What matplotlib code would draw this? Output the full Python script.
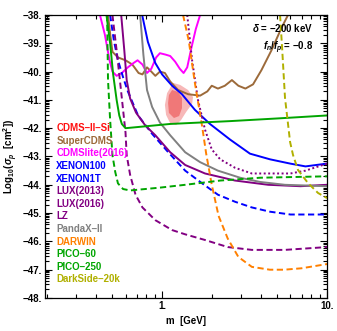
import numpy as np
import matplotlib
matplotlib.use("Agg")
import matplotlib.pyplot as plt
from matplotlib.ticker import FixedLocator, FuncFormatter, NullFormatter

plt.rcParams["font.family"] = ["Liberation Sans", "DejaVu Sans"]
plt.rcParams["font.weight"] = "bold"
plt.rcParams["mathtext.fontset"] = "custom"
plt.rcParams["mathtext.rm"] = "Liberation Sans:bold"
plt.rcParams["mathtext.it"] = "Liberation Sans:italic:bold"
plt.rcParams["mathtext.bf"] = "Liberation Sans:bold"

# --- limits: (mass [GeV], log10 sigma_p [cm^2]) ---
cdmslite_m = [0.42, 0.45, 0.48, 0.50, 0.53, 0.57, 0.62, 0.67, 0.71, 0.76, 0.81, 0.86,
              0.92, 0.97, 1.05, 1.12, 1.20, 1.28, 1.35, 1.42, 1.50, 1.60, 1.70]
cdmslite_y = [-38.0, -38.7, -39.6, -40.0, -40.15, -40.05, -39.85, -39.7, -39.6, -39.75,
              -40.05, -39.9, -39.5, -39.35, -39.4, -39.45, -39.65, -39.9, -40.05, -39.85,
              -39.2, -38.5, -38.0]

supercdms_m = [0.47, 0.485, 0.50, 0.54, 0.60, 0.66, 0.72, 0.76, 0.81, 0.86, 0.91, 0.97,
               1.04, 1.12, 1.25, 1.44, 1.70, 1.88, 2.0, 2.18, 2.4, 2.65, 2.9, 3.2, 3.56,
               4.0, 4.6, 5.3, 5.8]
supercdms_y = [-38.0, -38.7, -39.3, -39.5, -39.6, -39.75, -40.05, -40.1, -39.85, -40.0,
               -40.15, -40.0, -40.05, -40.35, -40.65, -40.8, -40.85, -40.7, -40.5, -40.6,
               -40.5, -40.3, -40.5, -40.6, -40.45, -39.95, -39.25, -38.45, -38.0]

xenon100_m = [0.757, 0.82, 0.91, 1.0, 1.15, 1.32, 1.58, 1.95, 2.58, 3.41, 4.51, 5.97, 7.4, 10.0]
xenon100_y = [-38.0, -38.95, -39.7, -40.1, -40.5, -40.8, -41.35, -41.85, -42.4, -42.9,
              -43.1, -43.25, -43.35, -43.25]

xenon1t_m = [0.484, 0.51, 0.54, 0.58, 0.62, 0.715, 0.87, 1.09, 1.38, 1.75, 2.18, 2.77,
             3.5, 4.5, 6.0, 10.0]
xenon1t_y = [-38.0, -38.9, -39.6, -40.2, -40.7, -41.55, -42.2, -42.85, -43.5, -43.95,
             -44.35, -44.6, -44.8, -44.95, -45.05, -45.05]

lux2013_m = [0.565, 0.59, 0.61, 0.64, 0.695, 0.79, 0.91, 1.12, 1.38, 1.82, 2.77, 4.4, 6.9, 10.0]
lux2013_y = [-38.0, -39.25, -40.3, -40.95, -41.45, -41.9, -42.25, -42.85, -43.3, -43.6,
             -43.85, -44.0, -44.05, -44.0]

lux2016_m = [0.50, 0.53, 0.556, 0.58, 0.60, 0.61, 0.64, 0.69, 0.76, 0.91, 1.15, 1.38,
             1.82, 2.5, 3.5, 5.55, 10.0]
lux2016_y = [-38.0, -39.25, -40.35, -41.35, -42.15, -42.95, -43.65, -44.35, -44.8, -45.25,
             -45.6, -45.75, -45.95, -46.2, -46.3, -46.3, -46.2]

lz_m = [1.42, 1.52, 1.65, 1.82, 2.0, 2.25, 2.77, 3.5, 4.5, 6.0, 7.4, 10.0]
lz_y = [-38.0, -39.6, -41.0, -42.05, -42.75, -43.1, -43.4, -43.6, -43.6, -43.6, -43.5, -43.25]

pandax_m = [0.736, 0.77, 0.81, 0.87, 0.97, 1.12, 1.38, 1.70, 2.18, 2.97, 3.93, 5.55, 10.0]
pandax_y = [-38.0, -39.4, -40.65, -41.25, -41.8, -42.25, -42.85, -43.2, -43.5, -43.75,
            -43.9, -44.0, -44.05]

darwin_m = [1.34, 1.45, 1.58, 1.75, 1.85, 2.0, 2.2, 2.5, 2.9, 3.5, 4.5, 5.5, 7.0, 10.0]
darwin_y = [-38.0, -38.9, -40.4, -41.95, -42.9, -44.0, -45.1, -45.9, -46.55, -46.9,
            -47.0, -47.0, -46.95, -46.8]

pico60_m = [0.46, 0.485, 0.505, 0.53, 0.55, 0.57, 0.60, 1.12, 2.58, 5.19, 10.0]
pico60_y = [-38.0, -39.05, -40.1, -41.0, -41.55, -41.85, -42.0, -41.85, -41.75, -41.65, -41.55]

pico250_m = [0.464, 0.47, 0.484, 0.50, 0.52, 0.54, 0.58, 0.64, 0.97, 1.38, 2.25, 3.93, 10.0]
pico250_y = [-38.0, -40.3, -41.7, -42.95, -43.55, -43.95, -44.15, -44.2, -44.1, -44.0,
             -43.85, -43.75, -43.7]

darkside_m = [5.19, 5.34, 5.56, 5.97, 6.22, 6.67, 7.67, 8.82, 10.0]
darkside_y = [-38.0, -39.17, -40.93, -42.49, -42.95, -43.48, -43.94, -44.29, -44.47]

# CDMS-II-Si signal regions (outer / inner contour)
cdms_outer_m = [1.166, 1.286, 1.437, 1.54, 1.52, 1.398, 1.304, 1.216, 1.118, 1.057, 1.04, 1.072]
cdms_outer_y = [-40.4, -40.47, -40.65, -40.9, -41.14, -41.43, -41.71, -41.89, -41.82,
                -41.53, -41.18, -40.76]
cdms_inner_m = [1.15, 1.25, 1.32, 1.32, 1.268, 1.18, 1.10, 1.087, 1.10]
cdms_inner_y = [-40.65, -40.72, -40.93, -41.29, -41.57, -41.64, -41.46, -41.11, -40.83]

legend_names = ["CDMS\u2013II\u2013Si", "SuperCDMS", "CDMSlite(2016)", "XENON100", "XENON1T",
                "LUX(2013)", "LUX(2016)", "LZ", "PandaX\u2013II", "DARWIN", "PICO\u201360",
                "PICO\u2013250", "DarkSide\u201320k"]

RED = "#ff1010"
BROWN = "#9c6a3a"
MAGENTA = "#ff00ff"
BLUE = "#0000ff"
PURPLE = "#820082"
GRAY = "#808080"
ORANGE = "#ff8000"
GREEN = "#00a500"
OLIVE = "#b0b000"
legend_colors = [RED, BROWN, MAGENTA, BLUE, BLUE, PURPLE, PURPLE, PURPLE, GRAY,
                 ORANGE, GREEN, GREEN, OLIVE]

fig = plt.figure(figsize=(3.37, 3.31), dpi=100)
ax = fig.add_axes([0.1335, 0.0997, 0.837, 0.855])

ax.fill(cdms_outer_m, cdms_outer_y, color="#f7b8b8", lw=0, zorder=1)
ax.fill(cdms_inner_m, cdms_inner_y, color="#f07878", lw=0, zorder=1)

lw = 1.4
dash = (0, (3.2, 1.8))
dot = (0, (1.0, 1.3))
ax.plot(supercdms_m, supercdms_y, color=BROWN, lw=lw)
ax.plot(cdmslite_m, cdmslite_y, color=MAGENTA, lw=lw)
ax.plot(xenon100_m, xenon100_y, color=BLUE, lw=lw)
ax.plot(xenon1t_m, xenon1t_y, color=BLUE, lw=lw, ls=dash)
ax.plot(lux2013_m, lux2013_y, color=PURPLE, lw=lw)
ax.plot(lux2016_m, lux2016_y, color=PURPLE, lw=lw, ls=dash)
ax.plot(lz_m, lz_y, color=PURPLE, lw=lw, ls=dot)
ax.plot(pandax_m, pandax_y, color=GRAY, lw=lw)
ax.plot(darwin_m, darwin_y, color=ORANGE, lw=lw, ls=dash)
ax.plot(pico60_m, pico60_y, color=GREEN, lw=lw)
ax.plot(pico250_m, pico250_y, color=GREEN, lw=lw, ls=dash)
ax.plot(darkside_m, darkside_y, color=OLIVE, lw=lw, ls=dash)

ax.set_xscale("log")
ax.set_xlim(0.195, 10.0)
ax.set_ylim(-48, -38)

# ticks in Mathematica style: inward on every side
ax.xaxis.set_major_locator(FixedLocator([1.0, 10.0]))
ax.xaxis.set_minor_locator(FixedLocator([k * 0.1 for k in range(2, 10)] + list(range(2, 10))))
ax.xaxis.set_major_formatter(FuncFormatter(lambda v, p: "%d." % round(v)))
ax.xaxis.set_minor_formatter(NullFormatter())
ax.yaxis.set_major_locator(FixedLocator(list(range(-48, -37))))
ymin = [n + np.log10(k) for n in range(-48, -38) for k in range(2, 10)]
ax.yaxis.set_minor_locator(FixedLocator(ymin))
ax.yaxis.set_major_formatter(FuncFormatter(lambda v, p: "\u2212%d." % round(-v)))
ax.tick_params(which="both", direction="in", top=True, right=True, labelsize=7, width=0.8)
ax.tick_params(which="major", length=5, pad=2)
ax.tick_params(which="minor", length=3)
for s in ax.spines.values():
    s.set_linewidth(0.9)

ax.set_xlabel("m  [GeV]", fontsize=7, fontweight="bold", labelpad=4)
ax.set_ylabel(r"Log$_{10}$($\sigma_p$  [cm$^2$])", fontsize=7, fontweight="bold", labelpad=2)

ax.text(0.95, 0.953, "$\\delta$ = \u2212200 keV", transform=ax.transAxes, ha="right",
        va="center", fontsize=7, fontweight="bold")
ax.text(0.95, 0.883, "$f_n/f_p$ = \u22120.8", transform=ax.transAxes, ha="right",
        va="center", fontsize=7, fontweight="bold")

for i, (name, col) in enumerate(zip(legend_names, legend_colors)):
    ax.text(0.04, 0.6 - i * 0.0445, name, transform=ax.transAxes, color=col,
            fontsize=7, fontweight="bold", va="center", ha="left")

fig.savefig("out.png", dpi=100)
